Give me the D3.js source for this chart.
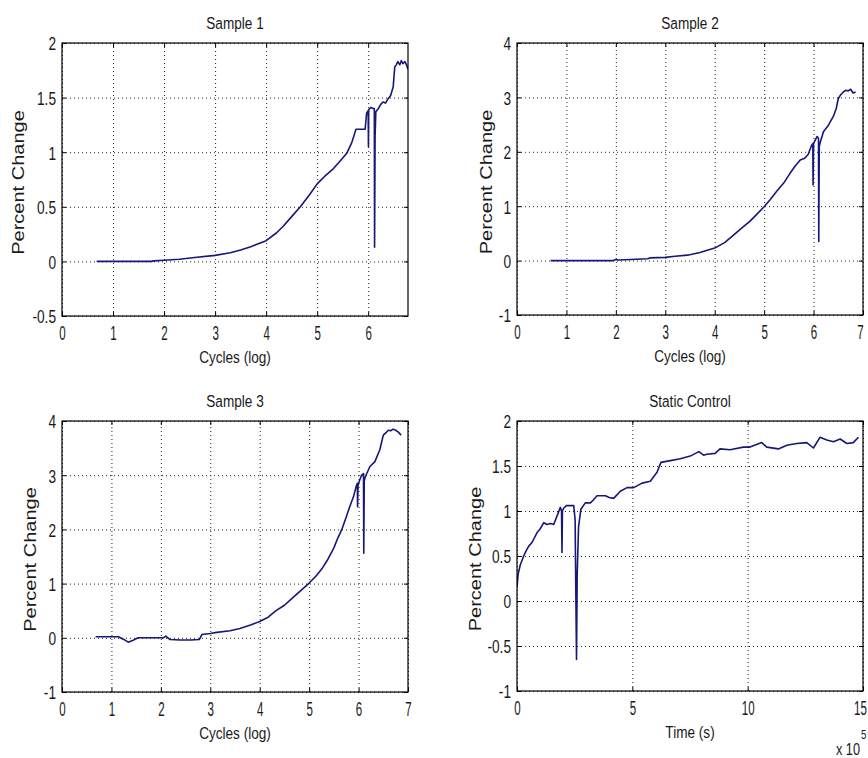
<!DOCTYPE html>
<html>
<head>
<meta charset="utf-8">
<script src="https://cdn.jsdelivr.net/npm/d3@7"></script>
<style>
  html, body { margin: 0; padding: 0; background: #fff; }
  text { font-family: "Liberation Sans", Arial, sans-serif; fill: #1a1a1a; }
</style>
</head>
<body>
<div id="chart"></div>
<script>
// Sample 1 (cycles on log scale, percent change)
const cyc1 = [0.68, 1.0, 1.5, 1.75, 1.8, 2.0, 2.3, 2.6, 3.0, 3.3, 3.5, 3.7, 4.0, 4.2, 4.33, 4.5, 4.67, 4.85, 5.0, 5.15,
  5.32, 5.45, 5.58, 5.68, 5.76, 5.85, 5.94, 5.97, 6.0, 6.005, 6.01, 6.05, 6.1, 6.12, 6.125, 6.135, 6.15, 6.2, 6.25, 6.29,
  6.34, 6.39, 6.44, 6.49, 6.52, 6.55, 6.58, 6.62, 6.65, 6.68, 6.72, 6.75, 6.78];
const pct1 = [0, 0, 0, 0, 0.005, 0.01, 0.02, 0.035, 0.055, 0.08, 0.105, 0.135, 0.19, 0.26, 0.32, 0.41, 0.5, 0.61, 0.71, 0.78,
  0.85, 0.92, 0.99, 1.09, 1.21, 1.21, 1.21, 1.36, 1.38, 1.05, 1.39, 1.41, 1.40, 1.40, 0.13, 1.15, 1.37, 1.40, 1.44, 1.46,
  1.45, 1.49, 1.52, 1.60, 1.78, 1.80, 1.83, 1.80, 1.84, 1.81, 1.83, 1.80, 1.76];

// Sample 2
const cyc2 = [0.68, 1.0, 1.5, 1.95, 2.0, 2.05, 2.3, 2.64, 2.7, 3.0, 3.2, 3.45, 3.7, 4.0, 4.2, 4.38, 4.55, 4.71, 4.85, 5.0,
  5.12, 5.25, 5.4, 5.52, 5.62, 5.73, 5.82, 5.89, 5.96, 5.985, 5.99, 6.0, 6.02, 6.07, 6.1, 6.105, 6.115, 6.14, 6.2, 6.3,
  6.4, 6.46, 6.5, 6.55, 6.6, 6.65, 6.7, 6.75, 6.8, 6.85];
const pct2 = [0, 0, 0, 0, 0.02, 0.01, 0.02, 0.035, 0.05, 0.06, 0.08, 0.1, 0.15, 0.23, 0.33, 0.47, 0.6, 0.72, 0.85, 0.99,
  1.12, 1.27, 1.43, 1.6, 1.73, 1.85, 1.88, 1.95, 2.12, 2.15, 1.39, 2.15, 2.19, 2.28, 2.25, 0.35, 2.1, 2.19, 2.37, 2.49,
  2.65, 2.8, 2.98, 3.05, 3.1, 3.13, 3.12, 3.15, 3.08, 3.1];

// Sample 3
const cyc3 = [0.68, 0.9, 1.14, 1.25, 1.34, 1.45, 1.54, 1.8, 2.05, 2.1, 2.18, 2.4, 2.6, 2.78, 2.83, 3.0, 3.13, 3.4, 3.6, 3.83,
  4.0, 4.17, 4.33, 4.5, 4.67, 4.83, 5.0, 5.14, 5.27, 5.38, 5.5, 5.58, 5.67, 5.74, 5.81, 5.9, 5.95, 5.975, 5.98, 5.99,
  6.01, 6.06, 6.1, 6.105, 6.115, 6.14, 6.23, 6.33, 6.43, 6.5, 6.55, 6.6, 6.65, 6.7, 6.75, 6.8, 6.86];
const pct3 = [0.02, 0.02, 0.02, -0.03, -0.08, -0.04, 0.0, 0.0, 0.0, 0.03, -0.03, -0.04, -0.04, -0.03, 0.06, 0.08, 0.1, 0.13, 0.17, 0.24,
  0.3, 0.38, 0.5, 0.6, 0.74, 0.87, 1.01, 1.14, 1.29, 1.45, 1.66, 1.84, 2.02, 2.2, 2.39, 2.61, 2.79, 2.85, 2.42, 2.82,
  2.88, 3.0, 3.03, 1.56, 2.9, 2.98, 3.16, 3.25, 3.47, 3.74, 3.78, 3.83, 3.82, 3.85, 3.83, 3.80, 3.74];

// Static control (time in units of 10^5 s)
const timeE5 = [0, 0.05, 0.14, 0.29, 0.4, 0.51, 0.65, 0.87, 1.0, 1.16, 1.3, 1.45, 1.59, 1.73, 1.88, 1.93, 1.95, 1.97, 2.02, 2.14,
  2.3, 2.46, 2.52, 2.55, 2.58, 2.61, 2.67, 2.77, 2.96, 3.18, 3.3, 3.47, 3.83, 4.0, 4.19, 4.48, 4.77, 5.06, 5.42, 5.78,
  6.07, 6.24, 6.65, 7.08, 7.51, 7.88, 8.09, 8.23, 8.59, 8.8, 9.24, 9.81, 10.1, 10.61, 10.83, 11.33, 11.7, 12.13, 12.56, 12.85,
  13.14, 13.43, 13.72, 14.01, 14.3, 14.58, 14.8];
const pct4 = [0.15, 0.3, 0.4, 0.5, 0.56, 0.61, 0.65, 0.76, 0.8, 0.87, 0.85, 0.86, 0.85, 0.94, 1.04, 1.0, 0.54, 1.0, 1.03, 1.06,
  1.06, 1.06, 0.9, 0.1, -0.65, 0.3, 0.83, 1.02, 1.09, 1.09, 1.12, 1.17, 1.17, 1.15, 1.14, 1.22, 1.26, 1.26, 1.31, 1.33,
  1.43, 1.54, 1.56, 1.58, 1.61, 1.66, 1.62, 1.63, 1.64, 1.69, 1.68, 1.71, 1.71, 1.76, 1.71, 1.69, 1.73, 1.75, 1.76, 1.70,
  1.82, 1.79, 1.77, 1.80, 1.75, 1.76, 1.82];

// tick values
const cycTicks6 = [0, 1, 2, 3, 4, 5, 6];
const cycTicks7 = [0, 1, 2, 3, 4, 5, 6, 7];
const pctTicksHalf = [-0.5, 0, 0.5, 1, 1.5, 2];
const pctTicksInt = [-1, 0, 1, 2, 3, 4];
const pctTicksCtrl = [-1, -0.5, 0, 0.5, 1, 1.5, 2];
const timeTicks = [0, 5, 10, 15];

const W = 868, H = 758;
const svg = d3.select("#chart").append("svg").attr("width", W).attr("height", H);

function hText(g, x, y, str, size, sx, anchor) {
  return g.append("text")
    .attr("transform", `translate(${x},${y}) scale(${sx},1)`)
    .attr("text-anchor", anchor || "middle")
    .attr("font-size", size)
    .text(str);
}

function panel(p) {
  const w = p.right - p.left, h = p.bottom - p.top;
  const g = svg.append("g").attr("transform", `translate(${p.left},${p.top})`);
  const x = d3.scaleLinear().domain(p.xDomain).range([0, w]);
  const y = d3.scaleLinear().domain(p.yDomain).range([h, 0]);

  // dotted grid
  const grid = g.append("g").attr("class", "grid");
  grid.append("g").attr("transform", `translate(0,${h})`)
    .call(d3.axisBottom(x).tickValues(p.xTicks).tickSize(-h).tickFormat(""));
  grid.append("g")
    .call(d3.axisLeft(y).tickValues(p.yTicks).tickSize(-w).tickFormat(""));
  grid.selectAll(".domain").remove();
  grid.selectAll("line").attr("stroke", "#222").attr("stroke-dasharray", "1,3").attr("stroke-width", 1);

  // data line
  const id = "clip" + p.key;
  g.append("clipPath").attr("id", id).append("rect").attr("width", w).attr("height", h);
  const idx = d3.range(p.xs.length);
  g.append("path")
    .attr("clip-path", `url(#${id})`)
    .attr("d", d3.line().x(i => x(p.xs[i])).y(i => y(p.ys[i]))(idx))
    .attr("fill", "none")
    .attr("stroke", "#17177a")
    .attr("stroke-width", 1.6)
    .attr("stroke-linejoin", "round");

  // axes with inward ticks
  const ax = g.append("g").attr("transform", `translate(0,${h})`)
    .call(d3.axisBottom(x).tickValues(p.xTicks).tickSizeInner(-4).tickSizeOuter(0).tickPadding(9).tickFormat(d => String(d)));
  ax.selectAll("text").attr("font-size", 21).attr("transform", "scale(0.55,1)");
  // keep the last label inside the page edge
  if (p.right > 860) ax.selectAll("text").filter(d => d === p.xDomain[1]).attr("x", -3 / 0.55);
  const ay = g.append("g")
    .call(d3.axisLeft(y).tickValues(p.yTicks).tickSizeInner(-4).tickSizeOuter(0).tickPadding(6 / 0.72).tickFormat(d => String(d)));
  ay.selectAll("text").attr("font-size", 19).attr("dy", "0.36em").attr("transform", "scale(0.72,1)");
  g.append("g").call(d3.axisTop(x).tickValues(p.xTicks).tickSizeInner(-4).tickSizeOuter(0).tickFormat(""));
  g.append("g").attr("transform", `translate(${w},0)`)
    .call(d3.axisRight(y).tickValues(p.yTicks).tickSizeInner(-4).tickSizeOuter(0).tickFormat(""));
  g.selectAll(".domain").remove();
  g.selectAll(".tick line").filter(function () { return !this.closest(".grid"); }).attr("stroke", "#000");
  g.selectAll(".tick text").attr("font-family", "'Liberation Sans', Arial, sans-serif").attr("fill", "#111");

  g.append("rect").attr("width", w).attr("height", h).attr("fill", "none").attr("stroke", "#000").attr("stroke-width", 1.2);

  // labels
  hText(g, w / 2, -14, p.title, 17, 0.8);
  hText(g, w / 2, h + 47, p.xLabel, 17, 0.8);
  g.append("text")
    .attr("transform", `translate(${p.yLabelX - p.left},${h / 2 + 3}) scale(0.8,1) rotate(-90)`)
    .attr("text-anchor", "middle")
    .attr("dy", "0.36em")
    .attr("font-size", 20)
    .text("Percent Change");
  return g;
}

panel({ key: 1, left: 62, top: 43, right: 408, bottom: 316, xDomain: [0, 6.78], yDomain: [-0.5, 2],
  xTicks: cycTicks6, yTicks: pctTicksHalf, xs: cyc1, ys: pct1, title: "Sample 1", xLabel: "Cycles (log)", yLabelX: 18 });
panel({ key: 2, left: 517, top: 43, right: 863, bottom: 315, xDomain: [0, 7], yDomain: [-1, 4],
  xTicks: cycTicks7, yTicks: pctTicksInt, xs: cyc2, ys: pct2, title: "Sample 2", xLabel: "Cycles (log)", yLabelX: 486 });
panel({ key: 3, left: 62, top: 421, right: 408, bottom: 692, xDomain: [0, 7], yDomain: [-1, 4],
  xTicks: cycTicks7, yTicks: pctTicksInt, xs: cyc3, ys: pct3, title: "Sample 3", xLabel: "Cycles (log)", yLabelX: 30 });
const g4 = panel({ key: 4, left: 517, top: 421, right: 863, bottom: 691, xDomain: [0, 15], yDomain: [-1, 2],
  xTicks: timeTicks, yTicks: pctTicksCtrl, xs: timeE5, ys: pct4, title: "Static Control", xLabel: "Time (s)", yLabelX: 475 });

// exponent label for the time axis
hText(g4, 343, 334, "x 10", 17, 0.75, "end");
hText(g4, 344, 318, "5", 13, 0.75, "start");
</script>
</body>
</html>
